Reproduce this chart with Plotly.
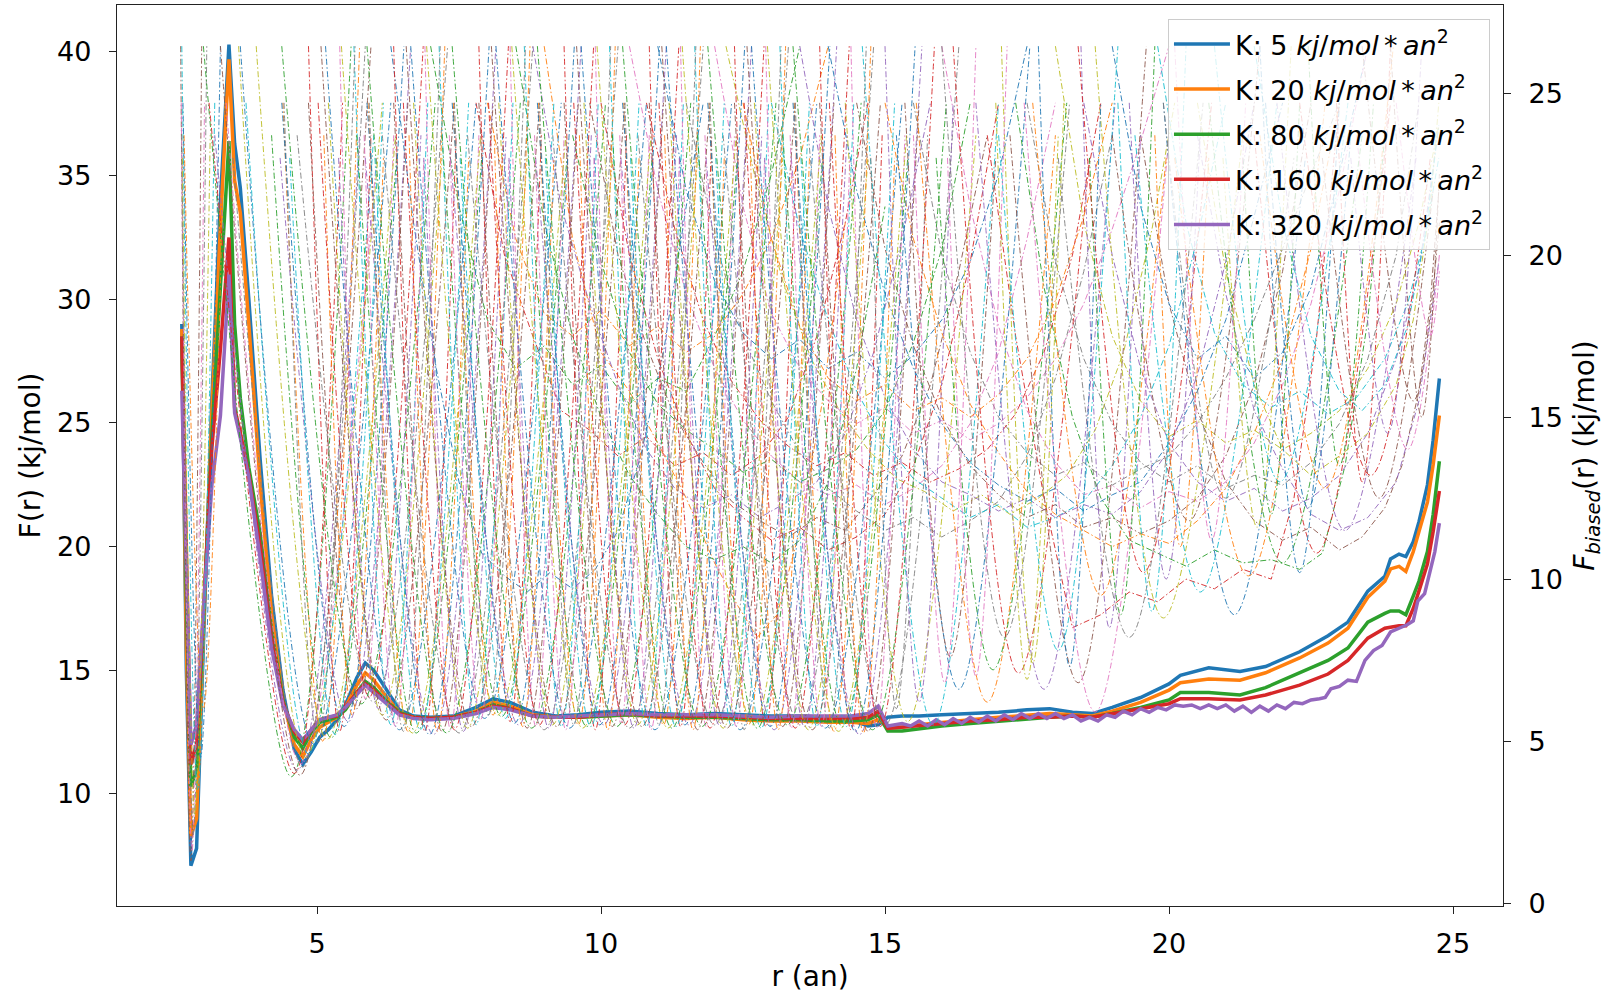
import plotly.graph_objects as go

TAB10 = ['#1f77b4', '#ff7f0e', '#2ca02c', '#d62728', '#9467bd',
         '#8c564b', '#e377c2', '#7f7f7f', '#bcbd22', '#17becf']

# ---------------- unbiased free energy profiles (left axis) ----------------
r_grid = [2.62, 2.70, 2.78, 2.88, 3.00, 3.15, 3.30, 3.45, 3.55, 3.65,
          3.80, 4.00, 4.20, 4.40, 4.60, 4.75, 4.90, 5.05, 5.20, 5.35,
          5.50, 5.70, 5.85, 6.00, 6.20, 6.45, 6.70, 7.00, 7.40, 7.80,
          8.10, 8.40, 8.80, 9.20, 9.60, 10.00, 10.50, 11.00, 11.50, 12.00,
          12.50, 13.00, 13.50, 14.00, 14.40, 14.70, 14.88, 15.05, 15.30, 15.60,
          16.00, 16.50, 17.00, 17.50, 17.90, 18.30, 18.65, 19.00, 19.50, 20.00,
          20.20, 20.70, 21.25, 21.70, 22.30, 22.80, 23.15, 23.50, 23.80, 23.90,
          24.05, 24.17, 24.30, 24.40, 24.55, 24.65, 24.76]

F_k5 = [29.0, 15.0, 7.1, 7.8, 16.0, 26.0, 34.0, 40.3, 36.3, 34.5,
        30.0, 23.5, 18.0, 14.2, 11.8, 11.2, 11.7, 12.3, 12.6, 13.0,
        13.6, 14.7, 15.3, 15.0, 14.3, 13.4, 13.15, 13.1, 13.15, 13.5,
        13.85, 13.7, 13.3, 13.15, 13.2, 13.3, 13.35, 13.25, 13.2, 13.25,
        13.2, 13.15, 13.15, 13.1, 13.0, 12.75, 12.8, 13.1, 13.15, 13.15,
        13.2, 13.25, 13.3, 13.4, 13.45, 13.3, 13.25, 13.5, 13.9, 14.45,
        14.8, 15.1, 14.95, 15.15, 15.75, 16.4, 16.95, 18.2, 18.8, 19.5,
        19.7, 19.6, 20.2, 21.0, 22.5, 24.3, 26.8]

F_k20 = [28.8, 16.0, 8.3, 9.0, 16.5, 25.5, 33.0, 39.7, 34.8, 33.5,
         29.0, 22.5, 17.3, 13.8, 12.0, 11.5, 12.2, 12.7, 12.9, 13.1,
         13.5, 14.4, 14.9, 14.6, 14.0, 13.3, 13.1, 13.05, 13.1, 13.35,
         13.7, 13.55, 13.2, 13.1, 13.1, 13.15, 13.2, 13.1, 13.05, 13.1,
         13.0, 12.95, 12.95, 12.9, 12.9, 12.85, 13.0, 12.75, 12.7, 12.8,
         12.9, 13.0, 13.1, 13.2, 13.25, 13.2, 13.15, 13.35, 13.7, 14.2,
         14.5, 14.65, 14.6, 14.9, 15.5, 16.1, 16.7, 17.95, 18.6, 19.1,
         19.2, 19.0, 19.8, 20.6, 21.8, 23.3, 25.3]

F_k80 = [28.5, 18.0, 10.3, 11.0, 17.0, 24.5, 30.5, 36.4, 29.0, 26.0,
         23.2, 20.5, 16.6, 13.8, 12.3, 11.85, 12.5, 12.9, 13.0, 13.1,
         13.4, 14.1, 14.55, 14.3, 13.8, 13.3, 13.1, 13.05, 13.1, 13.3,
         13.6, 13.45, 13.15, 13.1, 13.1, 13.15, 13.2, 13.15, 13.1, 13.1,
         13.05, 13.0, 13.0, 12.95, 12.95, 13.0, 13.2, 12.55, 12.55, 12.65,
         12.75, 12.85, 12.95, 13.05, 13.1, 13.15, 13.1, 13.25, 13.5, 13.8,
         14.1, 14.1, 14.0, 14.3, 14.9, 15.4, 15.9, 16.95, 17.3, 17.4,
         17.4, 17.25, 18.0, 18.6, 19.8, 21.3, 23.45]

F_k160 = [28.5, 19.0, 11.2, 12.0, 17.5, 24.0, 28.0, 32.5, 25.6, 24.6,
          22.9, 20.0, 16.3, 13.7, 12.5, 12.1, 12.6, 13.0, 13.1, 13.15,
          13.5, 14.1, 14.45, 14.2, 13.75, 13.25, 13.1, 13.05, 13.1, 13.3,
          13.55, 13.45, 13.15, 13.1, 13.1, 13.2, 13.25, 13.15, 13.15, 13.15,
          13.1, 13.05, 13.05, 13.05, 13.05, 13.1, 13.35, 12.65, 12.7, 12.75,
          12.85, 12.95, 13.0, 13.1, 13.1, 13.15, 13.1, 13.25, 13.45, 13.65,
          13.85, 13.85, 13.8, 14.0, 14.4, 14.85, 15.4, 16.3, 16.7, 16.75,
          16.8, 16.8, 17.5, 18.2, 19.3, 20.6, 22.25]

r_k320 = [2.62, 2.70, 2.78, 2.88, 3.00, 3.15, 3.30, 3.45, 3.55, 3.65,
          3.80, 4.00, 4.20, 4.40, 4.60, 4.75, 4.90, 5.05, 5.20, 5.35,
          5.50, 5.70, 5.85, 6.00, 6.20, 6.45, 6.70, 7.00, 7.40, 7.80,
          8.10, 8.40, 8.80, 9.20, 9.60, 10.00, 10.50, 11.00, 11.50, 12.00,
          12.50, 13.00, 13.50, 14.00, 14.40, 14.70, 14.88, 15.05, 15.30,
          15.45, 15.60, 15.75, 15.90, 16.05, 16.20, 16.35, 16.50, 16.65, 16.80,
          16.95, 17.10, 17.25, 17.40, 17.55, 17.70, 17.85, 18.00, 18.15, 18.30,
          18.45, 18.60, 18.75, 18.90, 19.05, 19.20, 19.35, 19.50, 19.65, 19.80,
          19.95, 20.10, 20.25, 20.40, 20.55, 20.70, 20.85, 21.00, 21.15, 21.30,
          21.45, 21.60, 21.75, 21.90, 22.05, 22.20, 22.35, 22.50, 22.65, 22.75,
          22.85, 23.00, 23.15, 23.30, 23.45, 23.60, 23.75, 23.90, 24.05, 24.20,
          24.30, 24.38, 24.50, 24.58, 24.68, 24.76]

F_k320 = [26.3, 19.0, 12.0, 12.8, 17.5, 22.5, 25.3, 31.0, 25.4, 24.4,
          22.8, 19.5, 15.9, 13.6, 12.6, 12.2, 12.6, 13.0, 13.1, 13.2,
          13.5, 14.0, 14.4, 14.1, 13.7, 13.2, 13.05, 13.0, 13.05, 13.25,
          13.5, 13.4, 13.15, 13.1, 13.15, 13.2, 13.25, 13.2, 13.2, 13.2,
          13.15, 13.1, 13.15, 13.15, 13.15, 13.25, 13.55, 12.75, 12.85,
          12.75, 12.95, 12.75, 13.0, 12.8, 13.05, 12.85, 13.1, 12.9, 13.15,
          12.95, 13.2, 13.0, 13.25, 13.05, 13.25, 13.05, 13.25, 13.05, 13.2,
          12.95, 13.1, 12.95, 13.2, 13.1, 13.35, 13.2, 13.45, 13.3, 13.5,
          13.4, 13.6, 13.55, 13.6, 13.45, 13.6, 13.45, 13.6, 13.35, 13.55,
          13.3, 13.55, 13.35, 13.6, 13.45, 13.7, 13.65, 13.8, 13.85, 13.9,
          14.25, 14.35, 14.6, 14.55, 15.4, 15.8, 16.0, 16.55, 16.7, 16.85,
          17.0, 17.8, 18.1, 18.8, 19.8, 20.95]

# ---------------- biased window profiles (right axis) ----------------
# stiff windows, first set: [left end, minimum, right end]
win_r = [
    [2.60, 2.78, 2.97], [2.61, 2.80, 3.02], [2.62, 2.82, 3.06], [2.63, 2.85, 3.12],
    [2.62, 2.90, 3.20], [2.64, 2.95, 3.30], [2.66, 3.00, 3.38],
    [3.00, 4.55, 5.60], [3.10, 4.60, 5.45], [3.20, 4.65, 5.75], [3.30, 4.70, 5.95],
    [3.40, 4.72, 6.05], [3.52, 4.75, 5.85], [3.62, 4.80, 6.15], [3.75, 4.85, 6.00],
    [3.65, 4.95, 6.30], [4.40, 5.10, 5.75], [4.20, 5.25, 6.40], [4.85, 5.40, 5.95],
    [4.35, 5.55, 6.65], [4.85, 5.70, 6.60], [5.40, 5.85, 6.35], [4.65, 6.00, 7.30],
    [5.20, 6.15, 7.20], [5.65, 6.30, 6.95], [5.15, 6.45, 7.80], [5.90, 6.60, 7.25],
    [5.70, 6.75, 7.90], [6.35, 6.90, 7.45], [5.85, 7.05, 8.15], [6.35, 7.20, 8.10],
    [6.90, 7.35, 7.85], [6.15, 7.50, 8.80], [6.70, 7.65, 8.70], [7.15, 7.80, 8.45],
    [6.65, 7.95, 9.30], [7.40, 8.10, 8.75], [7.20, 8.25, 9.40], [7.85, 8.40, 8.95],
    [7.35, 8.55, 9.65], [7.85, 8.70, 9.60], [8.40, 8.85, 9.35], [7.65, 9.00, 10.30],
    [8.20, 9.15, 10.20], [8.65, 9.30, 9.95], [8.15, 9.45, 10.80], [8.90, 9.60, 10.25],
    [8.70, 9.75, 10.90], [9.35, 9.90, 10.45], [8.85, 10.05, 11.15], [9.35, 10.20, 11.10],
    [9.90, 10.35, 10.85], [9.15, 10.50, 11.80], [9.70, 10.65, 11.70], [10.15, 10.80, 11.45],
    [9.65, 10.95, 12.30], [10.40, 11.10, 11.75], [10.20, 11.25, 12.40], [10.85, 11.40, 11.95],
    [10.35, 11.55, 12.65], [10.85, 11.70, 12.60], [11.40, 11.85, 12.35], [10.65, 12.00, 13.30],
    [11.20, 12.15, 13.20], [11.65, 12.30, 12.95], [11.15, 12.45, 13.80], [11.90, 12.60, 13.25],
    [11.70, 12.75, 13.90], [12.35, 12.90, 13.45], [11.85, 13.05, 14.15], [12.35, 13.20, 14.10],
    [12.90, 13.35, 13.85], [12.15, 13.50, 14.80], [12.70, 13.65, 14.70], [13.15, 13.80, 14.45],
    [12.65, 13.95, 15.30], [13.40, 14.10, 14.75], [13.20, 14.25, 15.40], [13.85, 14.40, 14.95],
    [13.35, 14.55, 15.65], [13.85, 14.70, 15.60], [14.40, 14.85, 15.35], [13.65, 15.00, 16.30],
    [14.30, 15.40, 16.60], [14.60, 15.85, 17.00], [15.20, 16.30, 17.55], [15.55, 16.80, 18.00],
    [15.90, 16.90, 18.20], [16.20, 17.35, 18.60], [16.60, 17.80, 19.05], [17.20, 18.40, 19.60],
    [17.45, 18.70, 20.00], [18.05, 19.30, 20.60], [18.70, 19.90, 21.30], [19.40, 20.55, 21.90],
    [19.90, 21.15, 22.40], [20.10, 21.40, 22.75], [20.70, 22.00, 23.40], [21.50, 22.60, 23.90],
    [21.90, 23.10, 24.35], [22.70, 23.70, 24.65], [23.30, 24.20, 24.76], [14.75, 15.20, 15.75],
    [17.05, 17.60, 18.15], [19.10, 19.70, 20.30], [21.60, 22.30, 23.00], [19.75, 20.20, 20.70],
    [21.30, 21.80, 22.30], [22.95, 23.40, 23.90], [18.45, 18.95, 19.50], [23.90, 24.45, 24.76],
    [15.50, 16.05, 16.60],
]
win_F = [
    [26.45, 1.3, 26.45], [24.7, 1.6, 24.7], [23.7, 2.1, 26.45], [23.0, 2.7, 23.7],
    [26.45, 3.5, 24.7], [24.7, 4.5, 26.45], [23.7, 6.0, 24.7],
    [26.45, 3.9, 26.45], [24.7, 4.0, 24.7], [23.7, 4.1, 23.7], [26.45, 3.95, 26.45],
    [24.7, 4.3, 23.0], [23.0, 4.2, 26.45], [26.45, 4.5, 24.7], [24.7, 4.6, 23.7],
    [26.45, 4.9, 24.7], [24.7, 5.0, 26.45], [23.7, 5.1, 23.0], [26.45, 5.3, 23.7],
    [23.0, 5.6, 26.45], [24.7, 6.0, 24.7], [26.45, 6.3, 23.7], [23.7, 6.2, 26.45],
    [24.7, 5.8, 23.0], [26.45, 5.5, 24.7], [26.45, 5.35, 24.7], [24.7, 5.3, 26.45],
    [23.7, 5.25, 23.0], [26.45, 5.3, 23.7], [23.0, 5.2, 26.45], [24.7, 5.3, 24.7],
    [26.45, 5.35, 23.7], [23.7, 5.25, 26.45], [24.7, 5.4, 23.0], [26.45, 5.5, 24.7],
    [26.45, 5.7, 24.7], [24.7, 5.8, 26.45], [23.7, 5.75, 23.0], [26.45, 5.6, 23.7],
    [23.0, 5.5, 26.45], [24.7, 5.4, 24.7], [26.45, 5.45, 23.7], [23.7, 5.35, 26.45],
    [24.7, 5.5, 23.0], [26.45, 5.45, 24.7], [26.45, 5.4, 24.7], [24.7, 5.5, 26.45],
    [23.7, 5.45, 23.0], [26.45, 5.35, 23.7], [23.0, 5.5, 26.45], [24.7, 5.45, 24.7],
    [26.45, 5.55, 23.7], [23.7, 5.4, 26.45], [24.7, 5.5, 23.0], [26.45, 5.45, 24.7],
    [26.45, 5.35, 24.7], [24.7, 5.5, 26.45], [23.7, 5.4, 23.0], [26.45, 5.45, 23.7],
    [23.0, 5.5, 26.45], [24.7, 5.35, 24.7], [26.45, 5.45, 23.7], [23.7, 5.5, 26.45],
    [24.7, 5.4, 23.0], [26.45, 5.45, 24.7], [26.45, 5.35, 24.7], [24.7, 5.5, 26.45],
    [23.7, 5.4, 23.0], [26.45, 5.45, 23.7], [23.0, 5.35, 26.45], [24.7, 5.45, 24.7],
    [26.45, 5.4, 23.7], [23.7, 5.5, 26.45], [24.7, 5.35, 23.0], [26.45, 5.45, 24.7],
    [26.45, 5.4, 24.7], [24.7, 5.3, 26.45], [23.7, 5.45, 23.0], [26.45, 5.35, 23.7],
    [23.0, 5.2, 26.45], [24.7, 5.3, 24.7], [26.45, 5.4, 23.7], [23.7, 5.5, 26.45],
    [24.7, 5.6, 23.7], [26.45, 5.5, 24.7], [23.7, 6.6, 26.45], [24.7, 6.2, 23.7],
    [23.0, 7.2, 24.7], [26.45, 7.1, 23.0], [24.7, 6.6, 24.7], [23.7, 6.8, 26.45],
    [24.7, 5.9, 23.7], [23.0, 8.2, 24.7], [26.45, 8.8, 23.7], [23.7, 9.6, 24.7],
    [24.7, 8.9, 23.0], [23.0, 10.1, 24.7], [24.7, 10.5, 23.7], [23.7, 10.8, 24.7],
    [24.7, 11.5, 23.0], [23.0, 12.5, 22.0], [23.7, 14.0, 20.0], [23.0, 6.0, 23.7],
    [26.45, 7.4, 24.7], [24.7, 9.0, 26.45], [26.45, 10.2, 24.7], [23.7, 11.0, 23.0],
    [23.0, 12.0, 24.7], [24.7, 13.0, 26.45], [26.45, 8.5, 23.7], [26.45, 15.0, 22.5],
    [23.7, 6.8, 26.45],
]

# stiff windows, second (interleaved) set
winB_r = [
    [4.42, 5.02, 5.67], [3.93, 5.18, 6.38], [4.52, 5.32, 6.17], [4.38, 5.48, 6.53],
    [5.12, 5.62, 6.17], [4.38, 5.78, 7.08], [5.02, 5.92, 6.87], [5.38, 6.08, 6.83],
    [5.07, 6.22, 7.42], [5.83, 6.38, 6.88], [5.92, 6.52, 7.17], [5.43, 6.68, 7.88],
    [6.02, 6.82, 7.67], [5.88, 6.98, 8.03], [6.62, 7.12, 7.67], [5.88, 7.28, 8.58],
    [6.52, 7.42, 8.37], [6.88, 7.58, 8.33], [6.57, 7.72, 8.92], [7.33, 7.88, 8.38],
    [7.42, 8.02, 8.67], [6.93, 8.18, 9.38], [7.52, 8.32, 9.17], [7.38, 8.48, 9.53],
    [8.12, 8.62, 9.17], [7.38, 8.78, 10.08], [8.02, 8.92, 9.87], [8.38, 9.08, 9.83],
    [8.07, 9.22, 10.42], [8.83, 9.38, 9.88], [8.92, 9.52, 10.17], [8.43, 9.68, 10.88],
    [9.02, 9.82, 10.67], [8.88, 9.98, 11.03], [9.62, 10.12, 10.67], [8.88, 10.28, 11.58],
    [9.52, 10.42, 11.37], [9.88, 10.58, 11.33], [9.57, 10.72, 11.92], [10.33, 10.88, 11.38],
    [10.42, 11.02, 11.67], [9.93, 11.18, 12.38], [10.52, 11.32, 12.17], [10.38, 11.48, 12.53],
    [11.12, 11.62, 12.17], [10.38, 11.78, 13.08], [11.02, 11.92, 12.87], [11.38, 12.08, 12.83],
    [11.07, 12.22, 13.42], [11.83, 12.38, 12.88], [11.92, 12.52, 13.17], [11.43, 12.68, 13.88],
    [12.02, 12.82, 13.67], [11.88, 12.98, 14.03], [12.62, 13.12, 13.67], [11.88, 13.28, 14.58],
    [12.52, 13.42, 14.37], [12.88, 13.58, 14.33], [12.57, 13.72, 14.92], [13.33, 13.88, 14.38],
    [13.42, 14.02, 14.67], [12.93, 14.18, 15.38], [13.52, 14.32, 15.17], [13.38, 14.48, 15.53],
    [14.12, 14.62, 15.17], [13.38, 14.78, 16.08], [14.02, 14.92, 15.87],
    [15.00, 15.60, 16.20], [15.35, 16.15, 16.95], [16.10, 16.60, 17.15], [16.00, 17.10, 18.25],
    [16.95, 17.50, 18.05], [17.00, 18.05, 19.10], [17.70, 18.25, 18.80], [17.60, 18.80, 19.95],
    [18.60, 19.15, 19.75], [18.40, 19.55, 20.75], [19.30, 19.95, 20.55], [19.00, 20.35, 21.60],
    [20.10, 20.75, 21.35], [19.90, 21.00, 22.20], [20.95, 21.55, 22.15], [20.80, 21.95, 23.15],
    [21.70, 22.45, 23.20], [21.60, 22.75, 23.95], [22.45, 23.00, 23.60], [22.30, 23.55, 24.60],
    [23.20, 23.85, 24.45], [23.40, 24.30, 24.76], [24.00, 24.60, 24.76],
]
winB_F = [
    [24.7, 4.95, 26.45], [26.45, 5.05, 23.7], [23.0, 5.2, 24.7], [24.7, 5.45, 26.45],
    [23.7, 5.8, 23.0], [26.45, 6.15, 24.7], [24.7, 6.35, 26.45], [23.0, 6.0, 23.7],
    [26.45, 5.65, 24.7], [23.7, 5.45, 23.0], [24.7, 5.3, 26.45], [26.45, 5.25, 23.7],
    [23.0, 5.35, 24.7], [24.7, 5.2, 26.45], [23.7, 5.3, 23.0], [26.45, 5.25, 24.7],
    [24.7, 5.35, 26.45], [23.0, 5.3, 23.7], [26.45, 5.45, 24.7], [23.7, 5.65, 23.0],
    [24.7, 5.8, 26.45], [26.45, 5.8, 23.7], [23.0, 5.7, 24.7], [24.7, 5.55, 26.45],
    [23.7, 5.45, 23.0], [26.45, 5.4, 24.7], [24.7, 5.5, 26.45], [23.0, 5.4, 23.7],
    [26.45, 5.45, 24.7], [23.7, 5.35, 23.0], [24.7, 5.5, 26.45], [26.45, 5.4, 23.7],
    [23.0, 5.45, 24.7], [24.7, 5.5, 26.45], [23.7, 5.35, 23.0], [26.45, 5.45, 24.7],
    [24.7, 5.5, 26.45], [23.0, 5.4, 23.7], [26.45, 5.45, 24.7], [23.7, 5.35, 23.0],
    [24.7, 5.5, 26.45], [26.45, 5.4, 23.7], [23.0, 5.45, 24.7], [24.7, 5.5, 26.45],
    [23.7, 5.35, 23.0], [26.45, 5.45, 24.7], [24.7, 5.4, 26.45], [23.0, 5.5, 23.7],
    [26.45, 5.4, 24.7], [23.7, 5.45, 23.0], [24.7, 5.35, 26.45], [26.45, 5.5, 23.7],
    [23.0, 5.4, 24.7], [24.7, 5.45, 26.45], [23.7, 5.35, 23.0], [26.45, 5.5, 24.7],
    [24.7, 5.4, 26.45], [23.0, 5.45, 23.7], [26.45, 5.35, 24.7], [23.7, 5.45, 23.0],
    [24.7, 5.4, 26.45], [26.45, 5.3, 23.7], [23.0, 5.45, 24.7], [24.7, 5.3, 26.45],
    [23.7, 5.25, 23.0], [26.45, 5.35, 24.7], [24.7, 5.45, 26.45],
    [26.45, 6.2, 24.7], [24.7, 7.6, 23.0], [23.0, 7.0, 26.45], [26.45, 8.2, 24.7],
    [24.7, 6.9, 23.7], [23.7, 7.8, 26.45], [26.45, 7.3, 24.7], [24.7, 9.5, 23.0],
    [23.0, 8.9, 26.45], [26.45, 10.2, 24.7], [24.7, 10.0, 23.7], [23.7, 11.8, 26.45],
    [26.45, 11.2, 24.7], [24.7, 12.5, 23.0], [23.0, 11.6, 26.45], [26.45, 13.0, 24.7],
    [24.7, 12.2, 23.7], [23.7, 12.8, 26.45], [26.45, 13.5, 24.7], [24.7, 13.2, 23.0],
    [23.0, 14.5, 26.45], [26.45, 15.5, 21.0], [24.7, 17.5, 19.5],
]

# soft (broad) windows
soft_r = [
    [6.3, 6.7, 7.1, 7.5, 7.9, 8.3, 8.7, 9.1, 9.5, 9.9, 10.3, 10.7, 11.1, 11.5, 11.8],
    [9.0, 9.5, 10.0, 10.5, 11.0, 11.5, 12.0, 12.4, 12.75, 13.1, 13.5, 13.9, 14.3],
    [7.0, 7.5, 8.0, 8.5, 9.0, 9.5, 10.0, 10.5, 11.0, 11.5, 12.0, 12.5, 13.0, 13.5],
    [7.8, 8.3, 8.8, 9.3, 9.8, 10.3, 10.8, 11.3, 11.8, 12.3, 12.8, 13.3, 13.8, 14.3, 14.7],
    [8.8, 9.3, 9.8, 10.3, 10.8, 11.3, 11.8, 12.3, 12.8, 13.3, 13.8, 14.3, 14.8, 15.3, 15.8],
    [9.8, 10.3, 10.8, 11.3, 11.8, 12.3, 12.8, 13.3, 13.8, 14.3, 14.8, 15.3, 15.8, 16.3, 16.8],
    [10.5, 11.0, 11.5, 12.0, 12.5, 13.0, 13.5, 14.0, 14.5, 15.0, 15.5, 16.0, 16.5, 17.0, 17.5, 18.0],
    [11.5, 12.0, 12.5, 13.0, 13.5, 14.0, 14.5, 15.0, 15.5, 16.0, 16.5, 17.0, 17.5, 18.0, 18.5, 19.0],
    [12.2, 12.7, 13.2, 13.7, 14.2, 14.7, 15.2, 15.7, 16.2, 16.7, 17.2, 17.7, 18.2, 18.7, 19.2, 19.7, 20.1],
    [13.0, 13.5, 14.0, 14.5, 15.0, 15.5, 16.0, 16.5, 17.0, 17.5, 18.0, 18.5, 19.0, 19.5, 20.0, 20.5, 21.0],
    [14.0, 14.5, 15.0, 15.5, 16.0, 16.5, 17.0, 17.5, 18.0, 18.5, 19.0, 19.5, 20.0, 20.5, 21.0, 21.5, 22.0],
    [15.0, 15.5, 16.0, 16.5, 17.0, 17.5, 18.0, 18.5, 19.0, 19.5, 20.0, 20.5, 21.0, 21.5, 22.0, 22.5, 23.0],
    [17.3, 17.8, 18.3, 18.8, 19.3, 19.8, 20.3, 20.8, 21.3, 21.8, 22.3, 22.7, 23.1, 23.5, 23.8],
    [16.8, 17.3, 17.8, 18.3, 18.8, 19.3, 19.8, 20.3, 20.8, 21.3, 21.8, 22.2, 22.6, 23.0],
    [18.5, 19.0, 19.5, 20.0, 20.5, 21.0, 21.5, 22.0, 22.5, 23.0, 23.5, 24.0, 24.4, 24.75],
    [19.5, 20.0, 20.5, 21.0, 21.5, 22.0, 22.5, 23.0, 23.4, 23.8, 24.1, 24.4, 24.6, 24.75],
    [12.0, 12.5, 13.0, 13.5, 14.0, 14.5, 15.0, 15.5, 16.0, 16.5, 17.0, 17.5, 18.0, 18.5, 19.0, 19.5, 20.0],
    [15.5, 16.0, 16.5, 17.0, 17.5, 18.0, 18.5, 19.0, 19.5, 20.0, 20.5, 21.0, 21.5, 22.0, 22.5, 23.0],
    [20.5, 21.0, 21.5, 22.0, 22.5, 23.0, 23.5, 24.0, 24.3, 24.6, 24.75],
    [21.5, 22.0, 22.5, 23.0, 23.4, 23.8, 24.2, 24.5, 24.75],
    [19.0, 19.5, 20.0, 20.5, 21.0, 21.5, 22.0, 22.5, 23.0, 23.5],
    [8.0, 8.5, 9.0, 9.5, 10.0, 10.5, 11.0, 11.5, 12.0, 12.5, 13.0, 13.5, 14.0],
    [9.5, 10.0, 10.5, 11.0, 11.5, 12.0, 12.5, 13.0, 13.5, 14.0, 14.5, 15.0, 15.5, 16.0, 16.5],
    [10.8, 11.3, 11.8, 12.3, 12.8, 13.3, 13.8, 14.3, 14.8, 15.3, 15.8, 16.3, 16.8, 17.3, 17.8, 18.3, 18.8],
    [13.5, 14.0, 14.5, 15.0, 15.5, 16.0, 16.5, 17.0, 17.5, 18.0, 18.5, 19.0, 19.5, 20.0, 20.5, 21.0, 21.5],
    [14.5, 15.0, 15.5, 16.0, 16.5, 17.0, 17.5, 18.0, 18.5, 19.0, 19.5, 20.0, 20.5, 21.0, 21.5, 22.0, 22.5],
    [16.0, 16.5, 17.0, 17.5, 18.0, 18.5, 19.0, 19.5, 20.0, 20.5, 21.0, 21.5, 22.0, 22.5, 23.0, 23.5],
    [17.5, 18.0, 18.5, 19.0, 19.5, 20.0, 20.5, 21.0, 21.5, 22.0, 22.5, 23.0, 23.5, 24.0, 24.4],
    [18.0, 18.5, 19.0, 19.5, 20.0, 20.5, 21.0, 21.5, 22.0, 22.5, 23.0, 23.5, 24.0, 24.4, 24.75],
    [19.8, 20.3, 20.8, 21.3, 21.8, 22.3, 22.8, 23.3, 23.8, 24.2, 24.5, 24.75],
    [11.0, 11.5, 12.0, 12.5, 13.0, 13.5, 14.0, 14.5, 15.0, 15.5, 16.0, 16.5, 17.0, 17.5],
    [12.5, 13.0, 13.5, 14.0, 14.5, 15.0, 15.5, 16.0, 16.5, 17.0, 17.5, 18.0, 18.5, 19.0],
    [8.5, 9.0, 9.5, 10.0, 10.5, 11.0, 11.5, 12.0, 12.5, 13.0, 13.5, 14.0, 14.5, 15.0],
    [10.0, 10.5, 11.0, 11.5, 12.0, 12.5, 13.0, 13.5, 14.0, 14.5, 15.0, 15.5, 16.0, 16.5, 17.0],
    [20.5, 21.0, 21.5, 22.0, 22.5, 23.0, 23.5, 24.0, 24.4, 24.75],
]
soft_F = [
    [26.45, 21.0, 16.5, 13.0, 10.8, 10.1, 9.6, 10.2, 9.7, 10.3, 11.5, 13.8, 17.0, 21.5, 24.7],
    [26.45, 20.5, 17.0, 15.8, 14.2, 12.5, 10.5, 9.2, 8.2, 8.9, 11.5, 15.5, 21.0],
    [26.45, 21.5, 18.0, 16.5, 17.2, 16.0, 16.6, 15.4, 16.2, 15.8, 17.5, 19.5, 22.5, 26.45],
    [24.7, 20.0, 17.5, 15.2, 14.6, 13.8, 14.4, 13.5, 13.9, 13.2, 13.8, 15.0, 17.5, 21.0, 24.7],
    [26.45, 21.5, 18.5, 16.0, 14.0, 12.8, 12.2, 12.6, 11.9, 12.4, 13.0, 14.5, 17.0, 20.5, 24.7],
    [24.7, 20.0, 17.2, 15.0, 13.6, 12.4, 11.8, 11.3, 11.9, 11.5, 12.6, 13.8, 16.0, 19.5, 23.7],
    [26.45, 22.0, 18.8, 16.5, 14.9, 13.8, 13.0, 12.6, 12.9, 12.3, 12.8, 13.5, 14.8, 17.0, 20.5, 24.7],
    [24.7, 20.5, 17.5, 15.5, 13.9, 12.8, 12.1, 11.5, 11.9, 11.3, 11.8, 12.4, 13.8, 16.2, 19.5, 23.7],
    [26.45, 22.5, 19.2, 16.8, 15.2, 14.0, 13.1, 12.7, 12.1, 12.6, 12.0, 12.5, 13.2, 14.6, 17.0, 20.8, 24.7],
    [24.7, 20.8, 18.0, 15.8, 14.2, 13.1, 12.5, 11.9, 12.3, 11.6, 11.9, 12.4, 13.5, 15.0, 17.2, 20.5, 24.7],
    [26.45, 22.0, 18.8, 16.5, 14.8, 13.6, 12.9, 12.4, 12.8, 12.1, 12.6, 13.0, 14.2, 15.8, 18.0, 21.2, 24.7],
    [24.7, 20.5, 17.6, 15.4, 13.9, 12.7, 12.0, 11.5, 11.0, 11.4, 11.1, 11.8, 12.8, 14.5, 16.8, 20.2, 24.7],
    [24.7, 19.0, 15.0, 12.5, 11.2, 10.8, 10.4, 10.9, 10.5, 10.6, 10.3, 10.8, 13.5, 18.0, 23.7],
    [23.7, 17.5, 12.5, 8.5, 8.9, 9.6, 9.3, 10.0, 9.7, 10.3, 10.0, 12.5, 17.5, 24.7],
    [24.7, 20.0, 16.5, 14.2, 13.0, 12.4, 12.8, 12.1, 12.5, 13.2, 14.5, 16.8, 19.5, 24.0],
    [23.7, 18.5, 15.2, 13.0, 11.8, 11.2, 11.6, 10.9, 11.3, 12.2, 13.5, 15.8, 18.5, 22.0],
    [26.45, 21.5, 18.2, 16.5, 15.5, 14.8, 15.3, 14.5, 14.9, 14.3, 14.8, 15.6, 16.8, 18.5, 20.8, 23.5, 26.45],
    [24.7, 20.0, 17.0, 15.0, 13.9, 13.2, 13.6, 12.9, 13.4, 13.8, 14.8, 16.2, 18.0, 20.2, 22.5, 24.7],
    [24.7, 19.5, 16.0, 14.0, 13.2, 13.8, 14.5, 16.0, 18.0, 21.5, 24.7],
    [26.45, 21.0, 17.5, 15.8, 15.2, 16.0, 17.8, 20.5, 24.0],
    [26.45, 21.5, 18.5, 16.8, 17.5, 16.2, 17.0, 19.0, 22.5, 26.45],
    [24.7, 20.5, 18.2, 17.5, 18.3, 17.2, 17.8, 17.0, 17.6, 18.8, 20.5, 23.0, 26.45],
    [23.7, 19.8, 17.0, 15.4, 14.6, 14.0, 13.3, 13.7, 13.0, 13.4, 14.0, 15.2, 17.3, 20.2, 24.7],
    [24.7, 20.8, 18.0, 16.1, 14.9, 14.1, 13.5, 13.9, 13.2, 13.6, 13.0, 13.4, 14.0, 15.1, 17.0, 20.0, 24.7],
    [26.45, 21.5, 18.0, 15.6, 14.0, 13.0, 12.6, 12.1, 12.5, 11.9, 12.3, 12.0, 12.7, 14.0, 16.3, 19.8, 24.7],
    [24.7, 20.2, 17.2, 15.0, 13.5, 12.6, 11.9, 12.3, 11.6, 11.9, 11.4, 11.8, 12.5, 13.8, 16.0, 19.5, 24.7],
    [26.45, 21.5, 17.8, 15.2, 13.6, 12.6, 12.9, 12.2, 12.7, 12.4, 13.0, 14.2, 16.0, 18.5, 22.0, 26.45],
    [24.7, 19.8, 16.8, 14.8, 13.6, 13.0, 13.5, 12.8, 13.2, 12.9, 13.6, 14.8, 16.8, 20.0, 24.7],
    [26.45, 21.0, 17.5, 15.5, 14.4, 14.9, 14.2, 14.6, 14.0, 14.5, 15.2, 16.5, 18.5, 21.0, 24.0],
    [26.45, 21.0, 17.6, 16.0, 15.3, 15.8, 15.1, 15.6, 16.8, 18.5, 20.5, 23.0],
    [26.45, 22.0, 19.2, 17.6, 16.8, 17.4, 16.5, 17.0, 16.2, 16.9, 18.0, 19.8, 22.5, 26.45],
    [24.7, 20.5, 17.8, 16.2, 15.5, 16.0, 15.2, 15.6, 15.0, 15.7, 16.8, 18.6, 21.2, 24.7],
    [26.45, 21.0, 17.5, 15.0, 13.2, 12.0, 11.0, 10.6, 11.0, 10.5, 11.2, 13.0, 16.5, 21.5],
    [24.7, 20.0, 16.8, 14.5, 12.8, 11.9, 11.2, 11.6, 10.9, 11.3, 12.0, 13.5, 16.0, 19.8, 24.7],
    [23.7, 18.8, 15.2, 13.4, 12.0, 11.5, 11.9, 13.0, 15.5, 19.8],
]

K_labels = ["5", "20", "80", "160", "320"]

# ---------------- figure ----------------
fig = go.Figure()

solid_r = [r_grid, r_grid, r_grid, r_grid, r_k320]
solid_F = [F_k5, F_k20, F_k80, F_k160, F_k320]
for i, (rr, ff) in enumerate(zip(solid_r, solid_F)):
    name = ("K: " + K_labels[i] + " <i>kj</i>/<i>mol</i>\u2009*\u2009<i>an</i><sup>2</sup>")
    fig.add_trace(go.Scatter(
        x=rr, y=ff, mode="lines", name=name, legendgroup="g%d" % i,
        line=dict(color=TAB10[i], width=3.5), yaxis="y", hoverinfo="skip"))

DASH = "6px,2.5px,1.5px,2.5px"
ci = 0
for rr, ff in zip(soft_r, soft_F):
    fig.add_trace(go.Scatter(
        x=rr, y=ff, mode="lines", showlegend=False, yaxis="y2", hoverinfo="skip",
        opacity=0.9, line=dict(color=TAB10[ci % 10], width=1.0, dash=DASH)))
    ci += 1
for rr, ff in list(zip(win_r, win_F)) + list(zip(winB_r, winB_F)):
    fig.add_trace(go.Scatter(
        x=rr, y=ff, mode="lines", showlegend=False, yaxis="y2", hoverinfo="skip",
        opacity=0.9,
        line=dict(color=TAB10[ci % 10], width=1.0, dash=DASH, shape="spline", smoothing=1.0)))
    ci += 1

AX = dict(ticks="outside", ticklen=7, tickwidth=1.4, tickcolor="#222",
          showline=True, linecolor="#222", linewidth=1.3,
          showgrid=False, zeroline=False, tickfont=dict(size=27, color="black"))

fig.update_layout(
    width=1607, height=997,
    margin=dict(l=117, r=104, t=5, b=91),
    paper_bgcolor="white", plot_bgcolor="white",
    font=dict(family="DejaVu Sans", size=27, color="black"),
    showlegend=True,
    xaxis=dict(range=[1.479, 25.88], tickvals=[5, 10, 15, 20, 25], mirror=True,
               ticklabelstandoff=6,
               title=dict(text="r (an)", font=dict(size=28), standoff=8), **AX),
    yaxis=dict(range=[5.47, 41.90], tickvals=[10, 15, 20, 25, 30, 35, 40], mirror=True,
               ticklabelstandoff=12,
               title=dict(text="F(r) (kj/mol)", font=dict(size=28), standoff=8), **AX),
    yaxis2=dict(range=[-0.09, 27.72], tickvals=[0, 5, 10, 15, 20, 25],
                overlaying="y", side="right", ticklabelstandoff=12,
                title=dict(text="<i>F</i><sub><i>biased</i></sub>(r) (kj/mol)",
                           font=dict(size=28), standoff=12), **AX),
    legend=dict(x=0.9906, xanchor="right", y=0.9845, yanchor="top",
                bgcolor="rgba(255,255,255,0.8)", bordercolor="#cccccc", borderwidth=1,
                font=dict(size=27, color="black"), itemwidth=56,
                tracegroupgap=7, traceorder="grouped"),
)

fig.write_html("out.html")
